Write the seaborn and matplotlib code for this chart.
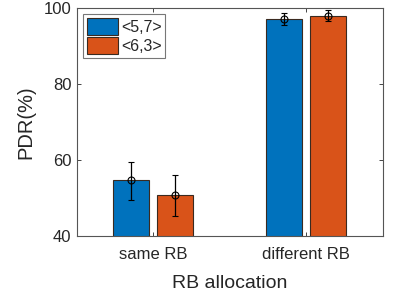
import matplotlib
matplotlib.use("Agg")
import matplotlib.pyplot as plt
import seaborn as sns
import pandas as pd
import numpy as np

groups = ["same RB", "different RB"]
series = ["<5,7>", "<6,3>"]
pdr_57 = [54.8, 97.1]
pdr_63 = [50.8, 98.0]
err_lo_57 = [49.4, 95.6]
err_hi_57 = [59.6, 98.7]
err_lo_63 = [45.3, 96.6]
err_hi_63 = [56.1, 99.5]

df = pd.DataFrame({
    "group": groups * 2,
    "series": [series[0]] * 2 + [series[1]] * 2,
    "pdr": pdr_57 + pdr_63,
    "lo": err_lo_57 + err_lo_63,
    "hi": err_hi_57 + err_hi_63,
})

sns.set_style("white")
plt.rcParams['font.family'] = ['Liberation Sans', 'DejaVu Sans']
ink = "#262626"

fig = plt.figure(figsize=(3.94, 2.97), dpi=100)
ax = fig.add_axes([0.195, 0.205, 0.777, 0.768])

sns.barplot(data=df, x="group", y="pdr", hue="series", order=groups,
            hue_order=series, palette=["#0072BD", "#D95319"], saturation=1,
            width=0.575, gap=0.18, errorbar=None, edgecolor="#3a2a20",
            linewidth=0.8, ax=ax)

# error bars at bar centres
for cont, s in zip(ax.containers, series):
    sub = df[df["series"] == s].set_index("group").loc[groups]
    xs = [p.get_x() + p.get_width() / 2 for p in cont.patches]
    y = sub["pdr"].values
    yerr = np.vstack([y - sub["lo"].values, sub["hi"].values - y])
    ax.errorbar(xs, y, yerr=yerr, fmt="o", mfc="none", mec="black",
                ms=5, mew=0.8, ecolor="black", elinewidth=0.9, capsize=2.5,
                capthick=0.9)

ax.set_xlim(-0.5, 1.5)
ax.set_ylim(40, 100)
ax.set_yticks([40, 60, 80, 100])
ax.set_xlabel("RB allocation", fontsize=14, color=ink, labelpad=9)
ax.set_ylabel("PDR(%)", fontsize=14.5, color=ink, labelpad=6)
ax.tick_params(direction="in", length=3, width=0.6, colors=ink,
               labelsize=12, top=True, right=True, bottom=True, left=True)
ax.tick_params(axis="x", pad=8)
ax.tick_params(axis="y", pad=4)
for sp in ax.spines.values():
    sp.set_visible(True)
    sp.set_color("#555555")
    sp.set_linewidth(0.8)

leg = ax.legend(loc="upper left", fontsize=11.5, frameon=True, fancybox=False,
                edgecolor="#555555", handlelength=1.9, handleheight=1.25,
                handletextpad=0.2, borderpad=0.25, labelspacing=0.1,
                borderaxespad=0.4)
leg.get_frame().set_linewidth(0.8)
for t in leg.get_texts():
    t.set_color(ink)

fig.savefig("out.png", dpi=100)
